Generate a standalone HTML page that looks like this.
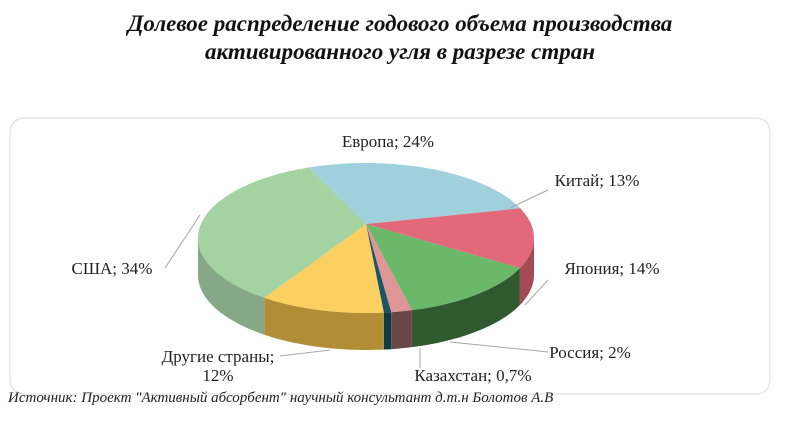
<!DOCTYPE html>
<html><head><meta charset="utf-8"><style>
body{margin:0;width:800px;height:433px;background:#fff;overflow:hidden;font-family:"Liberation Serif",serif}
.t{position:absolute;left:0;width:800px;text-align:center;font-style:italic;font-weight:bold;font-size:23px;color:#111}
</style></head><body>
<div class="t" style="top:10px;line-height:28px">Долевое распределение годового объема производства<br>активированного угля в разрезе стран</div>
<svg width="800" height="433" style="position:absolute;left:0;top:0">
<rect x="10" y="118" width="760" height="276" rx="14" fill="none" stroke="#d9d9d9"/>
<g id="pie"></g>
<g id="labels" font-size="17" fill="#222" font-family="Liberation Serif, serif"></g>
</svg>
<div style="position:absolute;left:8px;top:390px;font-style:italic;font-size:15px;color:#222">Источник: Проект "Активный абсорбент" научный консультант д.т.н Болотов А.В</div>
<script>
const categories=["Европа","Китай","Япония","Россия","Казахстан","Другие страны","США"];
const values=[24,13,14,2,0.7,12,34];
const labels=["Европа; 24%","Китай; 13%","Япония; 14%","Россия; 2%","Казахстан; 0,7%","Другие страны;|12%","США; 34%"];
const topColors=["#9fd0dc","#e2697a","#6bb86b","#dd9595","#1a5566","#fbd060","#a3d3a0"];
const sideColors=["#6f9aa5","#a54955","#2f5a30","#6b4646","#0e3a48","#b18d35","#86a886"];
const cx=366,cy=238,rx=168,ry=75,depth=37,start=250,vy=224;
const NS="http://www.w3.org/2000/svg";
const g=document.getElementById('pie');
const total=values.reduce((a,b)=>a+b,0);
function pt(a,dy){const r=a*Math.PI/180;return [cx+rx*Math.cos(r),cy+ry*Math.sin(r)+(dy||0)];}
function arc(a1,a2,dy){let d='';const n=Math.max(2,Math.ceil(Math.abs(a2-a1)/2));for(let i=0;i<=n;i++){const p=pt(a1+(a2-a1)*i/n,dy);d+=(i?'L':'')+p[0].toFixed(1)+' '+p[1].toFixed(1);}return d;}
let angs=[],a=start;
values.forEach(v=>{const s=a;a+=v/total*360;angs.push([s,a]);});
angs.forEach((r,i)=>{
  for(const off of [0,360]){
    let a1=Math.max(r[0],off),a2=Math.min(r[1],off+180);
    if(a2>a1){
      const p=document.createElementNS(NS,'path');
      p.setAttribute('d','M'+arc(a1,a2,0)+'L'+arc(a2,a1,depth)+'Z');
      p.setAttribute('fill',sideColors[i]);
      
      
      g.appendChild(p);
    }
  }
});
angs.forEach((r,i)=>{
  const p=document.createElementNS(NS,'path');
  p.setAttribute('d','M'+cx+' '+vy+'L'+arc(r[0],r[1],0)+'Z');
  p.setAttribute('fill',topColors[i]);
  
  
  g.appendChild(p);
});
const lpos=[[388,147,'middle',null],[597,186,'middle',[548,190,510,208]],[612,274,'middle',[548,280,525,305]],[590,358,'middle',[548,352,450,342]],[473,381,'middle',[420,368,420,348]],[218,362,'middle',[280,356,330,350]],[112,274,'middle',[165,268,200,215]]];
const lg=document.getElementById('labels');
labels.forEach((t,i)=>{
  const [x,y,anc,ln]=lpos[i];
  if(ln){const l=document.createElementNS(NS,'polyline');l.setAttribute('points',ln.join(' '));l.setAttribute('fill','none');l.setAttribute('stroke','#a6a6a6');
  
  
  lg.appendChild(l);}
  t.split('|').forEach((s,k)=>{const e=document.createElementNS(NS,'text');e.setAttribute('x',x);e.setAttribute('y',y+k*19);e.setAttribute('text-anchor',anc);e.textContent=s;
  
  
  lg.appendChild(e);});
});
</script>
</body></html>
